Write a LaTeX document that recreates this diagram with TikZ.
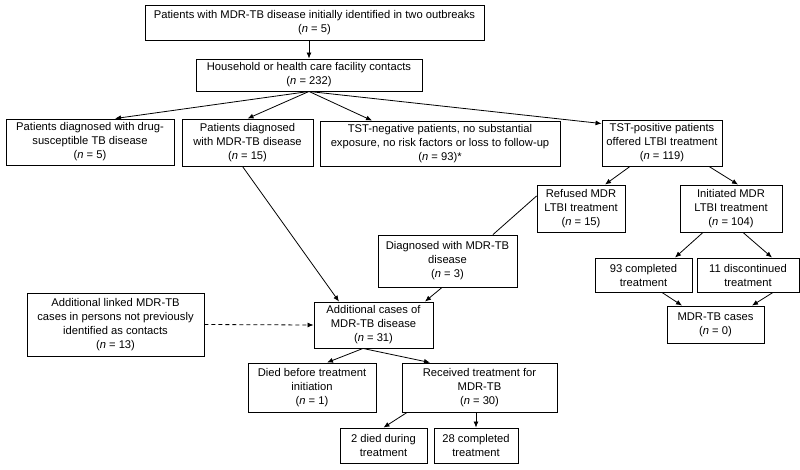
\documentclass[tikz,border=0pt]{standalone}
\usepackage{fontspec}
\setmainfont{Liberation Sans}
\usetikzlibrary{arrows.meta}

\begin{document}
\begin{tikzpicture}[x=1pt, y=-1pt,
    box/.style={draw=black, line width=0.9pt, fill=white, align=center,
        inner sep=1pt, font=\fontsize{11.2}{14}\selectfont},
    arrow/.style={line width=0.8pt, -{Latex[length=6pt,width=5pt]}},
    link/.style={line width=0.8pt, -},
    dasharrow/.style={arrow, dash pattern=on 4pt off 3pt}
]
    \useasboundingbox (0,0) rectangle (800,469);
    \node[box, minimum width=339pt, minimum height=35pt] (outbreak) at (314.5,22.5)
        {Patients with MDR-TB disease initially identified in two outbreaks\\(\textit{n} = 5)};
    \node[box, minimum width=226pt, minimum height=32pt] (contacts) at (309,75)
        {Household or health care facility contacts\\(\textit{n} = 232)};
    \node[box, minimum width=168pt, minimum height=46pt] (dstb) at (90,142)
        {Patients diagnosed with drug-\\susceptible TB disease\\(\textit{n} = 5)};
    \node[box, minimum width=131pt, minimum height=47pt] (mdrtb) at (247.5,142.5)
        {Patients diagnosed\\with MDR-TB disease\\(\textit{n} = 15)};
    \node[box, minimum width=240pt, minimum height=45pt] (tstneg) at (440,143.5)
        {TST-negative patients, no substantial\\exposure, no risk factors or loss to follow-up\\(\textit{n} = 93)*};
    \node[box, minimum width=120pt, minimum height=46pt] (tstpos) at (662,143)
        {TST-positive patients\\offered LTBI treatment\\(\textit{n} = 119)};
    \node[box, minimum width=88pt, minimum height=47pt] (refused) at (581,208.5)
        {Refused MDR\\LTBI treatment\\(\textit{n} = 15)};
    \node[box, minimum width=102pt, minimum height=47pt] (initiated) at (731,208.5)
        {Initiated MDR\\LTBI treatment\\(\textit{n} = 104)};
    \node[box, minimum width=139pt, minimum height=52pt] (diagnosed) at (447.5,261)
        {Diagnosed with MDR-TB\\disease\\(\textit{n} = 3)};
    \node[box, minimum width=97pt, minimum height=34pt] (completed) at (643.5,275)
        {93 completed\\treatment};
    \node[box, minimum width=102pt, minimum height=34pt] (discont) at (748,275)
        {11 discontinued\\treatment};
    \node[box, minimum width=97pt, minimum height=37pt] (nocases) at (715.5,324.5)
        {MDR-TB cases\\(\textit{n} = 0)};
    \node[box, minimum width=177pt, minimum height=63pt] (linked) at (115.5,324.5)
        {Additional linked MDR-TB\\cases in persons not previously\\identified as contacts\\(\textit{n} = 13)};
    \node[box, minimum width=119pt, minimum height=46pt] (addcases) at (373.5,325)
        {Additional cases of\\MDR-TB disease\\(\textit{n} = 31)};
    \node[box, minimum width=128pt, minimum height=49pt] (died) at (312,387.5)
        {Died before treatment\\initiation\\(\textit{n} = 1)};
    \node[box, minimum width=155pt, minimum height=49pt] (received) at (479.5,387.5)
        {Received treatment for\\MDR-TB\\(\textit{n} = 30)};
    \node[box, minimum width=87pt, minimum height=35pt] (diedtx) at (383.5,445.5)
        {2 died during\\treatment};
    \node[box, minimum width=84pt, minimum height=35pt] (completedtx) at (476,445.5)
        {28 completed\\treatment};

    \draw[arrow] (outbreak.south -| contacts.north) -- (contacts.north);
    \draw[arrow] (contacts.south) -- ([xshift=25pt]dstb.north);
    \draw[arrow] (contacts.south) -- (mdrtb.north);
    \draw[arrow] (contacts.south) -- ([xshift=-68pt]tstneg.north);
    \draw[arrow] (contacts.south) -- ([yshift=-4pt]tstpos.north west);
    \draw[arrow] ([xshift=-5pt]mdrtb.south) -- ([xshift=-34.5pt]addcases.north);
    \draw[arrow] ([xshift=-32pt]tstpos.south) -- ([xshift=24pt]refused.north);
    \draw[arrow] ([xshift=47pt]tstpos.south) -- ([xshift=7pt]initiated.north);
    \draw[link] ([yshift=12.5pt]refused.west) -- ([xshift=45.5pt]diagnosed.north);
    \draw[arrow] ([xshift=-5.5pt]diagnosed.south) -- ([xshift=51.5pt]addcases.north);
    \draw[arrow] ([xshift=-28pt]initiated.south) -- ([xshift=31.5pt]completed.north);
    \draw[arrow] ([xshift=12pt]initiated.south) -- ([xshift=24pt]discont.north);
    \draw[arrow] ([xshift=18.5pt]completed.south) -- ([xshift=-33.5pt]nocases.north);
    \draw[arrow] ([xshift=25pt]discont.south) -- ([xshift=36.5pt]nocases.north);
    \draw[dasharrow] (linked.east) -- (addcases.west);
    \draw[arrow] ([xshift=-10.5pt]addcases.south) -- ([xshift=15pt]died.north);
    \draw[arrow] ([xshift=-10.5pt]addcases.south) -- ([xshift=-49.5pt]received.north);
    \draw[arrow] ([xshift=-72.5pt]received.south) -- (diedtx.north);
    \draw[arrow] (received.south -| completedtx.north) -- (completedtx.north);
\end{tikzpicture}
\end{document}
